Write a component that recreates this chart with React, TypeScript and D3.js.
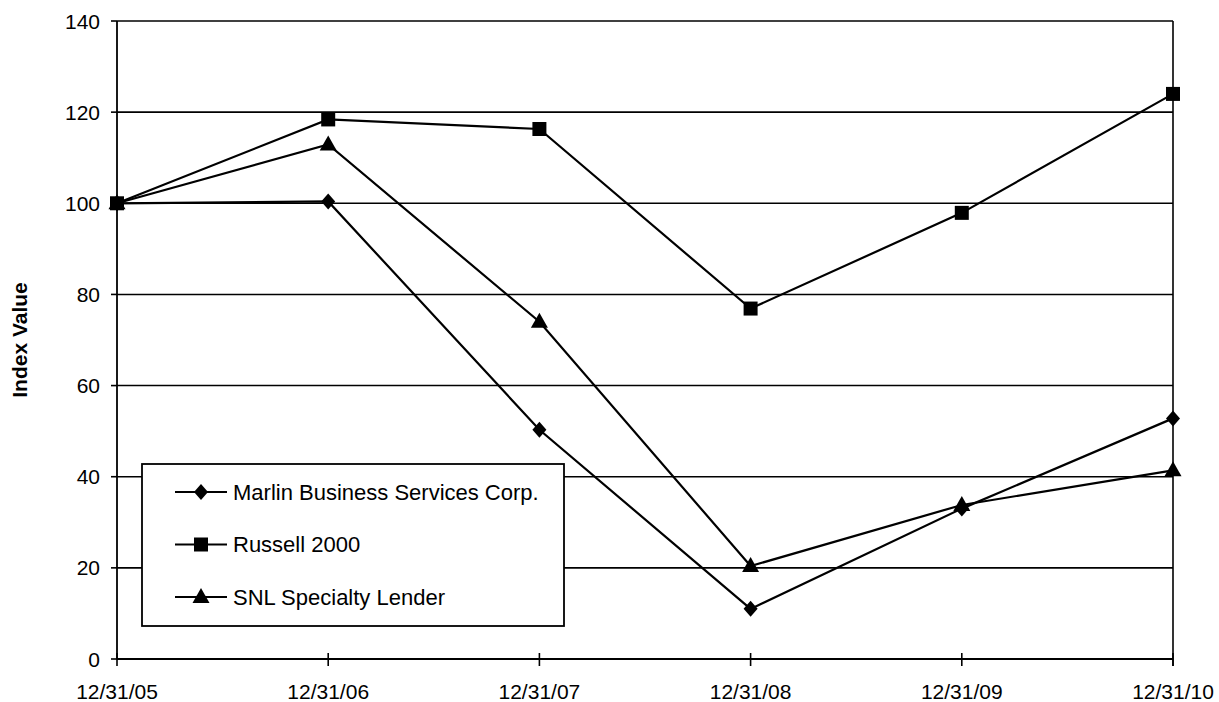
import React from 'react';
import * as d3 from 'd3';

const dates = ['12/31/05', '12/31/06', '12/31/07', '12/31/08', '12/31/09', '12/31/10'];
const marlin = [100, 100.4, 50.3, 11, 33, 52.8];
const russell = [100, 118.4, 116.3, 76.9, 97.9, 124];
const snl = [100, 112.9, 74, 20.4, 33.8, 41.4];
const yTicks = [0, 20, 40, 60, 80, 100, 120, 140];

const seriesNames = ['Marlin Business Services Corp.', 'Russell 2000', 'SNL Specialty Lender'];
const seriesValues = [marlin, russell, snl];
const seriesMarkers = ['diamond', 'square', 'triangle'];

const width = 1219;
const height = 702;
const padding = { top: 21, right: 46, bottom: 43, left: 117 };
const font = 'Arial, "Liberation Sans", sans-serif';

function markerPath(kind: string) {
  if (kind === 'diamond') return 'M0,-8L7,0L0,8L-7,0Z';
  if (kind === 'square') return 'M-7,-7H7V7H-7Z';
  return 'M0,-9L8.5,6H-8.5Z';
}

const App = () => {
  const x = d3
    .scalePoint<string>()
    .domain(dates)
    .range([padding.left, width - padding.right]);

  const y = d3
    .scaleLinear()
    .domain([0, 140])
    .range([height - padding.bottom, padding.top]);

  const line = d3
    .line<number>()
    .x((_, i) => x(dates[i]) as number)
    .y((d) => y(d));

  const x0 = padding.left;
  const x1 = width - padding.right;
  const y0 = y(0);

  // legend box
  const legend = { x: 142, y: 464, w: 422, h: 162, row: 52.5 };

  return (
    <svg
      width={width}
      height={height}
      viewBox={`0 0 ${width} ${height}`}
      style={{ position: 'absolute', left: 0, top: 0, background: '#fff' }}
      fontFamily={font}
    >
      <g className="grid">
        {yTicks.map((t) => (
          <line key={t} x1={x0} x2={x1} y1={y(t)} y2={y(t)} stroke="#000" strokeWidth={1.6} />
        ))}
        <line x1={x1} x2={x1} y1={y(140)} y2={y0 + 7} stroke="#000" strokeWidth={1.6} />
      </g>

      <g className="axis">
        <line x1={x0} x2={x0} y1={y(140)} y2={y0} stroke="#000" strokeWidth={1.8} />
        <line x1={x0} x2={x1} y1={y0} y2={y0} stroke="#000" strokeWidth={1.8} />
        {yTicks.map((t) => (
          <g key={t}>
            <line x1={x0 - 6} x2={x0} y1={y(t)} y2={y(t)} stroke="#000" strokeWidth={1.6} />
            <text x={100} y={y(t)} dy="0.36em" textAnchor="end" fontSize={21}>
              {t}
            </text>
          </g>
        ))}
        {dates.map((d) => (
          <g key={d}>
            <line x1={x(d)} x2={x(d)} y1={y0 - 6} y2={y0 + 7} stroke="#000" strokeWidth={1.6} />
            <text x={x(d)} y={699} textAnchor="middle" fontSize={21}>
              {d}
            </text>
          </g>
        ))}
        <text
          transform={`translate(27,340) rotate(-90)`}
          textAnchor="middle"
          fontSize={21}
          fontWeight="bold"
        >
          Index Value
        </text>
      </g>

      <g className="data">
        {seriesValues.map((vals, s) => (
          <g key={seriesNames[s]}>
            <path d={line(vals) as string} fill="none" stroke="#000" strokeWidth={2.2} />
            {vals.map((v, i) => (
              <path
                key={i}
                d={markerPath(seriesMarkers[s])}
                transform={`translate(${x(dates[i])},${y(v)})`}
                fill="#000"
              />
            ))}
          </g>
        ))}
      </g>

      <g className="legend">
        <rect
          x={legend.x}
          y={legend.y}
          width={legend.w}
          height={legend.h}
          fill="#fff"
          stroke="#000"
          strokeWidth={1.8}
        />
        {seriesNames.map((name, s) => {
          const cy = legend.y + 28 + s * legend.row;
          return (
            <g key={name}>
              <line x1={175} x2={227} y1={cy} y2={cy} stroke="#000" strokeWidth={1.8} />
              <path d={markerPath(seriesMarkers[s])} transform={`translate(201,${cy})`} fill="#000" />
              <text x={233} y={cy} dy="0.36em" fontSize={22}>
                {name}
              </text>
            </g>
          );
        })}
      </g>
    </svg>
  );
};

export default App;
